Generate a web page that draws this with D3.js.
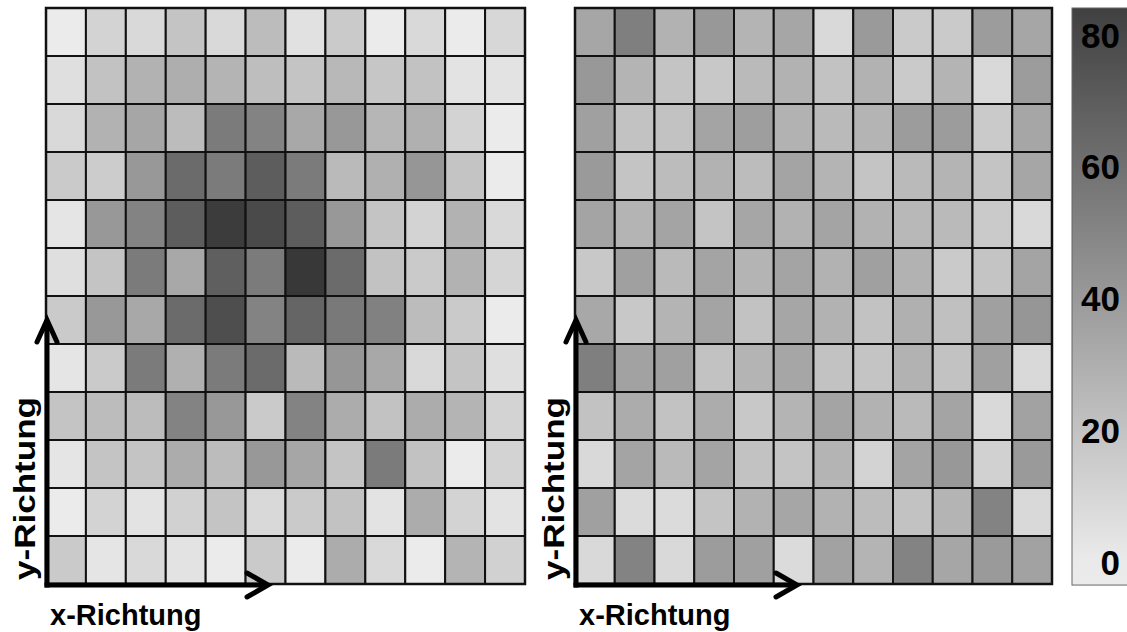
<!DOCTYPE html>
<html>
<head>
<meta charset="utf-8">
<script src="https://cdn.jsdelivr.net/npm/d3@7"></script>
<style>
  html, body { margin: 0; padding: 0; background: #ffffff; }
  svg { display: block; }
  text { font-family: "Liberation Sans", Arial, sans-serif; font-weight: bold; fill: #000; }
</style>
</head>
<body>
<svg id="chart" width="1127" height="632"></svg>
<script>
// Grid indices (12 x 12 cells), rows listed from top to bottom
const columns = d3.range(12);
const rows = d3.range(12);

// Left field: values per row (top row first)
const leftValues = [
  [0, 12, 9, 19, 9, 23, 5, 16, 0, 9, 0, 10],
  [6, 20, 28, 30, 27, 22, 19, 25, 18, 20, 4, 4],
  [9, 28, 34, 23, 55, 51, 33, 41, 26, 29, 12, 0],
  [16, 15, 41, 63, 55, 70, 55, 24, 29, 42, 19, 0],
  [3, 41, 51, 70, 86, 79, 70, 41, 19, 12, 28, 9],
  [6, 19, 55, 33, 69, 55, 88, 63, 20, 16, 28, 11],
  [16, 41, 33, 63, 77, 51, 66, 56, 52, 23, 16, 0],
  [3, 16, 55, 29, 55, 63, 24, 42, 33, 9, 19, 6],
  [19, 23, 23, 51, 41, 16, 51, 31, 20, 31, 27, 12],
  [3, 19, 19, 31, 23, 41, 34, 19, 55, 20, 0, 12],
  [0, 12, 4, 13, 19, 9, 16, 20, 4, 31, 12, 4],
  [16, 3, 9, 4, 0, 16, 0, 31, 9, 0, 27, 13]
];

// Right field: values per row (top row first)
const rightValues = [
  [34, 53, 28, 41, 27, 34, 9, 40, 16, 16, 39, 34],
  [41, 27, 19, 17, 24, 28, 20, 28, 16, 27, 9, 39],
  [37, 20, 20, 35, 38, 28, 24, 27, 39, 39, 16, 34],
  [40, 19, 23, 28, 23, 35, 27, 19, 24, 27, 19, 34],
  [35, 27, 35, 19, 34, 28, 35, 28, 25, 24, 16, 9],
  [17, 37, 24, 35, 27, 35, 28, 37, 28, 16, 19, 35],
  [33, 17, 27, 35, 20, 34, 28, 20, 29, 21, 37, 42],
  [53, 36, 37, 20, 27, 34, 20, 19, 28, 20, 37, 9],
  [20, 31, 20, 31, 17, 27, 35, 28, 24, 35, 9, 36],
  [9, 35, 24, 35, 20, 19, 27, 12, 35, 41, 13, 40],
  [37, 8, 8, 19, 28, 34, 28, 23, 20, 27, 51, 9],
  [9, 51, 9, 39, 37, 8, 36, 27, 51, 34, 40, 36]
];

// Colour bar
const colorTicks = [0, 20, 40, 60, 80];
const colorBarRange = [-3.5, 84.1];

const axisLabelX = "x-Richtung";
const axisLabelY = "y-Richtung";

const svg = d3.select("#chart");

const color = d3.scaleLinear()
  .domain([0, 88])
  .range(["#ebebeb", "#383838"])
  .clamp(true);

const gridTop = 8, gridBottom = 584;

function drawField(values, x0, x1) {
  const x = d3.scaleBand().domain(columns).range([x0, x1]).padding(0);
  const y = d3.scaleBand().domain(rows).range([gridTop, gridBottom]).padding(0);

  const cells = [];
  rows.forEach(r => columns.forEach(c => cells.push({ r, c, v: values[r][c] })));

  const g = svg.append("g");
  g.selectAll("rect.cell")
    .data(cells)
    .join("rect")
    .attr("class", "cell")
    .attr("x", d => x(d.c))
    .attr("y", d => y(d.r))
    .attr("width", x.bandwidth())
    .attr("height", y.bandwidth())
    .attr("fill", d => color(d.v))
    .attr("stroke", "#111")
    .attr("stroke-width", 2);

  g.append("rect")
    .attr("x", x0).attr("y", gridTop)
    .attr("width", x1 - x0).attr("height", gridBottom - gridTop)
    .attr("fill", "none")
    .attr("stroke", "#111")
    .attr("stroke-width", 2.5);

  // direction arrows along the lower-left corner
  const ax = x0 + 1, ay = gridBottom + 1;
  const arrows = g.append("g")
    .attr("fill", "none")
    .attr("stroke", "#000")
    .attr("stroke-width", 5)
    .attr("stroke-linecap", "butt")
    .attr("stroke-linejoin", "miter");
  const tipY = 320, tipX = x0 + 222;
  arrows.append("path").attr("d", `M${ax},${ay + 2.5}V${tipY}`);
  arrows.append("path").attr("d", `M${ax - 10},${tipY + 22}L${ax},${tipY}L${ax + 10},${tipY + 22}`)
    .attr("stroke-linecap", "round");
  arrows.append("path").attr("d", `M${ax - 2.5},${ay}H${tipX}`);
  arrows.append("path").attr("d", `M${tipX - 21},${ay - 12}L${tipX},${ay}L${tipX - 21},${ay + 12}`)
    .attr("stroke-linecap", "round");

  g.append("text")
    .attr("x", x0 + 4)
    .attr("y", 625)
    .attr("font-size", 29)
    .text(axisLabelX);

  g.append("text")
    .attr("transform", `translate(${x0 - 11},580) rotate(-90)`)
    .attr("font-size", 30)
    .attr("textLength", 183)
    .attr("lengthAdjust", "spacingAndGlyphs")
    .text(axisLabelY);
}

drawField(leftValues, 46, 525);
drawField(rightValues, 575, 1052);

// Colour bar
const barX = 1072, barW = 56, barTop = 8, barBottom = 585;
const barScale = d3.scaleLinear().domain([0, 80]).range([562, 35]);

const defs = svg.append("defs");
const grad = defs.append("linearGradient")
  .attr("id", "barGradient")
  .attr("x1", 0).attr("y1", 1).attr("x2", 0).attr("y2", 0);
d3.range(0, 1.0001, 0.05).forEach(t => {
  const v = colorBarRange[0] + t * (colorBarRange[1] - colorBarRange[0]);
  grad.append("stop").attr("offset", t).attr("stop-color", color(v));
});

svg.append("rect")
  .attr("x", barX).attr("y", barScale(colorBarRange[1]))
  .attr("width", barW)
  .attr("height", barScale(colorBarRange[0]) - barScale(colorBarRange[1]))
  .attr("fill", "url(#barGradient)")
  .attr("stroke", "#666")
  .attr("stroke-width", 1);

svg.append("g")
  .selectAll("text")
  .data(colorTicks)
  .join("text")
  .attr("x", 1120)
  .attr("y", d => barScale(d))
  .attr("dy", "0.36em")
  .attr("text-anchor", "end")
  .attr("font-size", 35)
  .text(d => d);
</script>
</body>
</html>
